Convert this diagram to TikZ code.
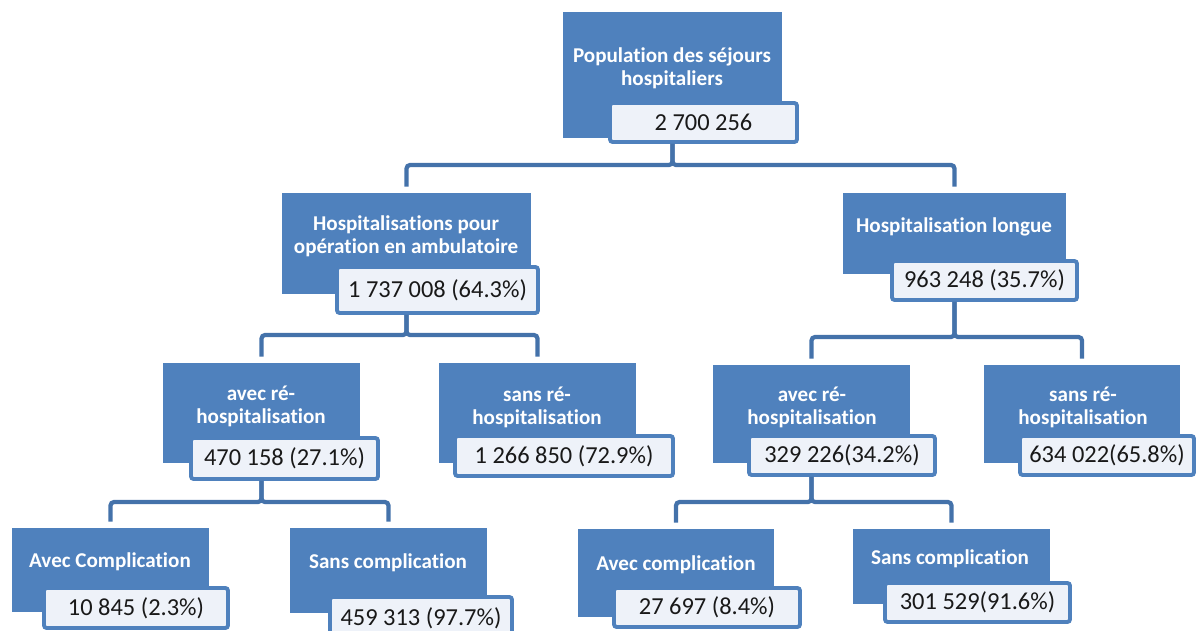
\documentclass[tikz,border=0pt]{standalone}
\usepackage{fontspec}
\setmainfont{Carlito}[Ligatures=NoCommon]
\usetikzlibrary{fit}

\definecolor{boxblue}{RGB}{79,129,189}
\definecolor{linkblue}{RGB}{68,114,170}
\definecolor{nbfill}{RGB}{238,242,249}

\tikzset{
    mainbox/.style={fill=boxblue, inner sep=0pt},
    nbbox/.style={fill=nbfill, draw=boxblue, line width=2.2pt, rounded corners=1.5pt, inner sep=0pt},
    nbtext/.style={text=black!90, inner sep=0pt, font=\fontsize{13.9}{16}\selectfont},
    title/.style={text=white, align=center, font=\bfseries\fontsize{12}{13.1}\selectfont},
    link/.style={draw=linkblue, line width=2.4pt, rounded corners=2pt, shorten >=0.12cm}
}

\begin{document}
\begin{tikzpicture}[x=0.02cm, y=-0.02cm]
    \useasboundingbox (0,0) rectangle (1196,630);

    % blue boxes
    \node[mainbox, fit={(563,12) (782,138)}] (Pop) {};
    \node[mainbox, fit={(282,193) (531,294)}] (Amb) {};
    \node[mainbox, fit={(843,193) (1066,274)}] (Longue) {};
    \node[mainbox, fit={(163,363) (360,463)}] (AvecA) {};
    \node[mainbox, fit={(439,363) (636,463)}] (SansA) {};
    \node[mainbox, fit={(713,365) (910,463)}] (AvecL) {};
    \node[mainbox, fit={(984,365) (1180,463)}] (SansL) {};
    \node[mainbox, fit={(12,528) (209,612)}] (AvecCA) {};
    \node[mainbox, fit={(290,528) (487,613)}] (SansCA) {};
    \node[mainbox, fit={(578,529) (774,617)}] (AvecCL) {};
    \node[mainbox, fit={(853,529) (1050,604)}] (SansCL) {};

    % titles
    \node[title] (PopT) at (672,68) {Population des séjours\\hospitaliers};
    \node[title] (AmbT) at (406,236) {Hospitalisations pour\\opération en ambulatoire};
    \node[title] (LongueT) at (954,227) {Hospitalisation longue};
    \node[title] (AvecAT) at (261,406) {avec ré-\\hospitalisation};
    \node[title] (SansAT) at (537,407) {sans ré-\\hospitalisation};
    \node[title] (AvecLT) at (812,407) {avec ré-\\hospitalisation};
    \node[title] (SansLT) at (1083,407) {sans ré-\\hospitalisation};
    \node[title] (AvecCAT) at (110,562) {Avec Complication};
    \node[title] (SansCAT) at (388,563) {Sans complication};
    \node[title] (AvecCLT) at (676,565) {Avec complication};
    \node[title] (SansCLT) at (950,559) {Sans complication};

    % number boxes
    \node[nbbox, fit={(610,103) (797,142)}] (PopNb) {};
    \node[nbbox, fit={(337,267) (538,313)}] (AmbNb) {};
    \node[nbbox, fit={(892,261) (1077,300)}] (LongueNb) {};
    \node[nbbox, fit={(191,438) (378,479)}] (AvecANb) {};
    \node[nbbox, fit={(455,436) (673,476)}] (SansANb) {};
    \node[nbbox, fit={(749,436) (935,475)}] (AvecLNb) {};
    \node[nbbox, fit={(1020,436) (1194,475)}] (SansLNb) {};
    \node[nbbox, fit={(44,588) (228,628)}] (AvecCANb) {};
    \node[nbbox, fit={(330,597) (512,638)}] (SansCANb) {};
    \node[nbbox, fit={(614,588) (800,627)}] (AvecCLNb) {};
    \node[nbbox, fit={(885,583) (1070,622)}] (SansCLNb) {};

    % numbers
    \node[nbtext] (PopV) at (PopNb.center) {2 700 256};
    \node[nbtext] (AmbV) at (AmbNb.center) {1 737 008 (64.3\%)};
    \node[nbtext] (LongueV) at (LongueNb.center) {963 248 (35.7\%)};
    \node[nbtext] (AvecAV) at (AvecANb.center) {470 158 (27.1\%)};
    \node[nbtext] (SansAV) at (SansANb.center) {1 266 850 (72.9\%)};
    \node[nbtext] (AvecLV) at (AvecLNb.center) {329 226(34.2\%)};
    \node[nbtext] (SansLV) at (SansLNb.center) {634 022(65.8\%)};
    \node[nbtext] (AvecCAV) at (AvecCANb.center) {10 845 (2.3\%)};
    \node[nbtext] (SansCAV) at ([yshift=-0.02cm]SansCANb.center) {459 313 (97.7\%)};
    \node[nbtext] (AvecCLV) at (AvecCLNb.center) {27 697 (8.4\%)};
    \node[nbtext] (SansCLV) at (SansCLNb.center) {301 529(91.6\%)};

    % links
    \draw[link] (Pop.south |- PopNb.south) -- (Pop.south |- 0,165) -| (Amb.north);
    \draw[link] (Pop.south |- PopNb.south) -- (Pop.south |- 0,165) -| (Longue.north);
    \draw[link] (Amb.south |- AmbNb.south) -- (Amb.south |- 0,335) -| (AvecA.north);
    \draw[link] (Amb.south |- AmbNb.south) -- (Amb.south |- 0,335) -| (SansA.north);
    \draw[link] (Longue.south |- LongueNb.south) -- (Longue.south |- 0,337) -| (AvecL.north);
    \draw[link] (Longue.south |- LongueNb.south) -- (Longue.south |- 0,337) -| (SansL.north);
    \draw[link] (AvecA.south |- AvecANb.south) -- (AvecA.south |- 0,502) -| (AvecCA.north);
    \draw[link] (AvecA.south |- AvecANb.south) -- (AvecA.south |- 0,502) -| (SansCA.north);
    \draw[link] (AvecL.south |- AvecLNb.south) -- (AvecL.south |- 0,502) -| (AvecCL.north);
    \draw[link] (AvecL.south |- AvecLNb.south) -- (AvecL.south |- 0,502) -| (SansCL.north);
\end{tikzpicture}
\end{document}
